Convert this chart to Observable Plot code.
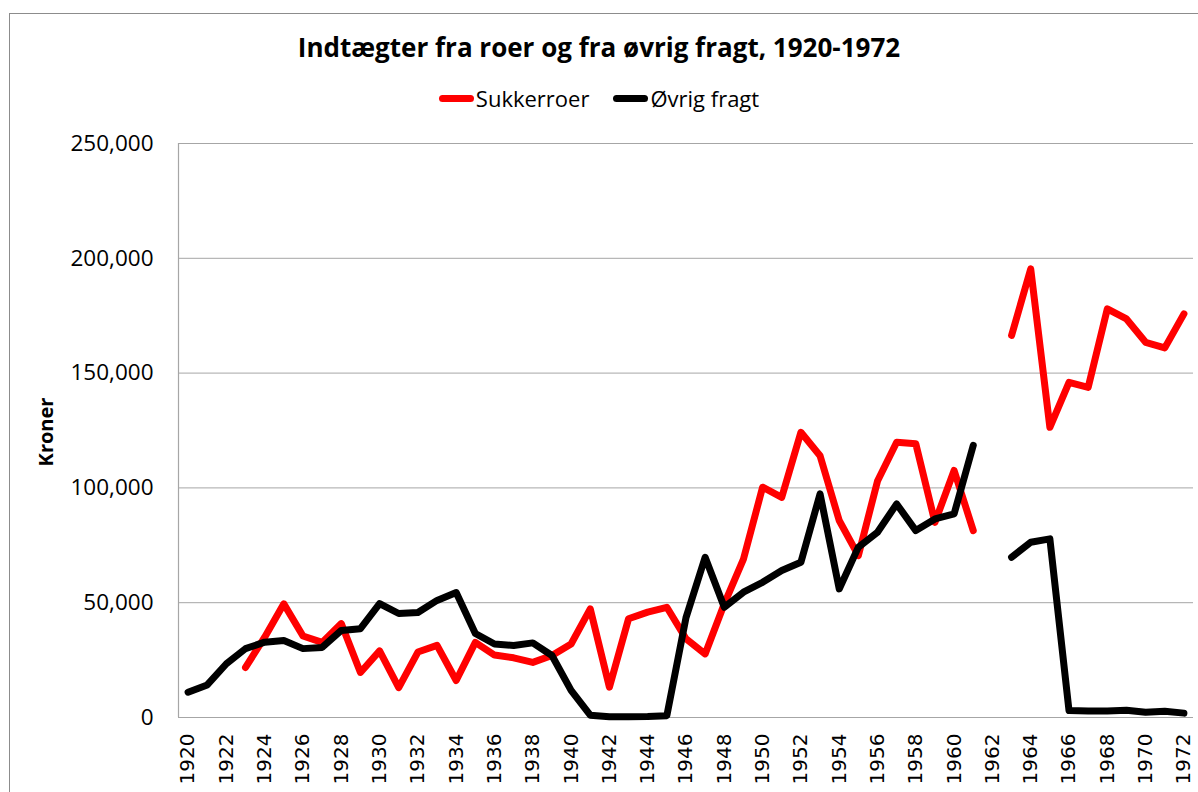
<!DOCTYPE html>
<html>
<head>
<meta charset="utf-8">
<script src="https://cdn.jsdelivr.net/npm/d3@7"></script>
<script src="https://cdn.jsdelivr.net/npm/@observablehq/plot@0.6"></script>
<style>
  html, body { margin: 0; padding: 0; background: #fff; }
  #page { position: relative; width: 1198px; height: 792px; overflow: hidden; }
  #frame { position: absolute; left: 9px; top: 13px; width: 1400px; height: 900px;
           border-top: 1.5px solid #8c8c8c; border-left: 1.5px solid #8c8c8c; }
  #header { position: relative; height: 120px; }
  #title { position: absolute; top: 31px; left: 0; width: 1198px; text-align: center;
           font-family: "Open Sans", sans-serif; font-weight: bold;
           font-size: 26px; line-height: 32px; color: #000; }
  #legend { position: absolute; top: 84px; left: 0; width: 1198px; display: flex;
            justify-content: center; align-items: center; font-family: "Open Sans", sans-serif;
            font-size: 22px; line-height: 28px; color: #000; }
  .item { display: flex; align-items: center; margin: 0 12px; }
  .sw { display: inline-block; width: 35px; height: 7px; border-radius: 4px; margin-right: 2px; }
  #ylabel { position: absolute; left: 45px; top: 432px; transform: translate(-50%, -50%) rotate(-90deg);
            font-family: "Open Sans", sans-serif; font-weight: bold; font-size: 20px; white-space: nowrap; }
  #chart { position: absolute; left: 0; top: 120px; }
</style>
</head>
<body>
<div id="page">
  <div id="frame"></div>
  <div id="header">
    <div id="title">Indtægter fra roer og fra øvrig fragt, 1920-1972</div>
    <div id="legend"></div>
  </div>
  <div id="ylabel">Kroner</div>
  <div id="chart"></div>
</div>
<script>
const years = [1920,1921,1922,1923,1924,1925,1926,1927,1928,1929,
               1930,1931,1932,1933,1934,1935,1936,1937,1938,1939,
               1940,1941,1942,1943,1944,1945,1946,1947,1948,1949,
               1950,1951,1952,1953,1954,1955,1956,1957,1958,1959,
               1960,1961,1962,1963,1964,1965,1966,1967,1968,1969,
               1970,1971,1972];

const sukkerroer = [null,null,null,21800,35000,49500,35500,32700,40900,19600,
                    29000,13000,28500,31400,16100,32700,27200,26000,24000,27000,
                    32000,47300,13200,43000,45900,48000,34300,27700,49500,69000,
                    100300,95900,124200,114000,85800,70500,103000,119900,119200,85000,
                    107600,81400,null,166400,195400,126400,146000,143800,178000,173600,
                    163400,161000,175800];

const ovrigFragt = [11000,14200,23400,30000,32800,33500,30000,30500,37900,38700,
                    49600,45300,45700,51000,54400,36600,32000,31400,32500,27000,
                    11800,1000,300,300,400,800,43500,69800,48000,54600,
                    58900,64000,67600,97400,56000,74200,80700,93000,81400,86500,
                    88700,118500,null,69800,76300,77800,3000,2800,2800,3200,
                    2300,2700,1900];

const seriesNames = ["Sukkerroer", "Øvrig fragt"];
const seriesColors = ["#ff0000", "#000000"];
const yTicks = [0, 50000, 100000, 150000, 200000, 250000];
const xTicks = [1920,1922,1924,1926,1928,1930,1932,1934,1936,1938,1940,1942,1944,1946,
                1948,1950,1952,1954,1956,1958,1960,1962,1964,1966,1968,1970,1972];

const data = [];
years.forEach((yr, i) => {
  data.push({year: yr, value: sukkerroer[i], series: seriesNames[0]});
});
years.forEach((yr, i) => {
  data.push({year: yr, value: ovrigFragt[i], series: seriesNames[1]});
});

// legend
const legend = document.getElementById("legend");
seriesNames.forEach((n, i) => {
  const it = document.createElement("div");
  it.className = "item";
  it.innerHTML = `<span class="sw" style="background:${seriesColors[i]}"></span><span>${n}</span>`;
  legend.appendChild(it);
});

const gridColor = "#a6a6a6";
const chart = Plot.plot({
  width: 1198,
  height: 672,
  marginTop: 23,
  marginBottom: 75,
  marginLeft: 178,
  marginRight: 5,
  style: {background: "transparent", overflow: "visible"},
  x: {type: "linear", domain: [1919.5, 1972.5]},
  y: {domain: [0, 250000]},
  color: {domain: seriesNames, range: seriesColors},
  marks: [
    Plot.gridY(yTicks, {stroke: gridColor, strokeOpacity: 1, strokeWidth: 1}),
    Plot.ruleX([1919.5], {stroke: gridColor, strokeWidth: 1.2}),
    Plot.ruleY([0], {stroke: gridColor, strokeWidth: 1.2}),
    Plot.axisY(yTicks, {tickSize: 0, tickPadding: 25, tickFormat: d3.format(","), label: null,
      fontSize: 22.5, fontFamily: "Open Sans, sans-serif", fill: "#000"}),
    Plot.axisX(xTicks, {tickSize: 0, tickPadding: 16, tickRotate: -90, tickFormat: d => String(d), label: null,
      fontSize: 20, fontFamily: "DejaVu Sans, sans-serif", fill: "#000"}),
    Plot.line(data, {x: "year", y: "value", z: "series", stroke: "series",
      strokeWidth: 7, strokeLinejoin: "round", strokeLinecap: "round"})
  ]
});
document.getElementById("chart").appendChild(chart);
</script>
</body>
</html>
